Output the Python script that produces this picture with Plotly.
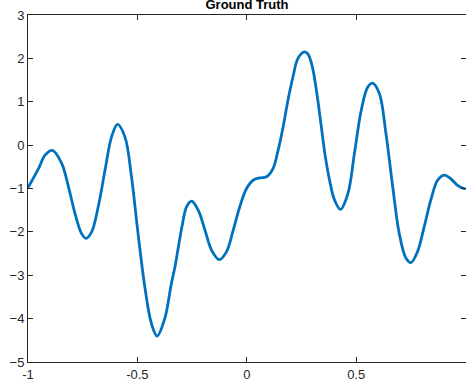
import plotly.graph_objects as go

# values
x_vals = [-1.0, -0.952, -0.922, -0.888, -0.846, -0.815, -0.785, -0.755, -0.735,
          -0.709, -0.679, -0.648, -0.618, -0.591, -0.557, -0.527, -0.497, -0.466,
          -0.436, -0.41, -0.375, -0.345, -0.328, -0.297, -0.275, -0.252, -0.222,
          -0.191, -0.161, -0.126, -0.093, -0.062, -0.032, -0.001, 0.029, 0.059,
          0.09, 0.12, 0.143, 0.166, 0.188, 0.211, 0.234, 0.264, 0.28, 0.30,
          0.32, 0.34, 0.36, 0.38, 0.40, 0.428, 0.462, 0.492, 0.523, 0.553,
          0.575, 0.606, 0.636, 0.667, 0.697, 0.728, 0.75, 0.78, 0.811, 0.841,
          0.872, 0.902, 0.932, 0.962, 0.993, 1.0]
y_vals = [-0.98, -0.54, -0.23, -0.12, -0.42, -0.96, -1.58, -2.04, -2.15,
          -2.0, -1.42, -0.58, 0.19, 0.48, 0.19, -0.73, -2.04, -3.27,
          -4.11, -4.40, -4.0, -3.2, -2.8, -1.9, -1.42, -1.29, -1.5,
          -1.96, -2.42, -2.64, -2.46, -1.96, -1.42, -1.0, -0.81, -0.756,
          -0.73, -0.54, -0.12, 0.42, 1.03, 1.57, 2.0, 2.15, 2.1, 1.8,
          1.2, 0.45, -0.3, -0.85, -1.25, -1.48, -1.12, -0.19, 0.80, 1.34,
          1.43, 1.19, 0.27, -0.96, -2.04, -2.61, -2.71, -2.46, -1.88, -1.27,
          -0.81, -0.69, -0.77, -0.92, -1.0, -1.0]
x_ticks = [-1, -0.5, 0, 0.5, 1]
x_tick_text = ["-1", "-0.5", "0", "0.5", "1"]
y_ticks = [-5, -4, -3, -2, -1, 0, 1, 2, 3]
title_text = "Ground Truth"

fig = go.Figure()
fig.add_trace(go.Scatter(x=x_vals, y=y_vals, mode="lines",
                         line=dict(color="#0072BD", width=2.8, shape="spline", smoothing=1.0),
                         hoverinfo="skip"))

axis_common = dict(showgrid=False, zeroline=False, showline=True, linecolor="#262626",
                   linewidth=1, mirror="ticks", ticks="inside", ticklen=5, tickwidth=1,
                   tickcolor="#262626",
                   tickfont=dict(family="Liberation Sans, Arial, sans-serif", size=13, color="#262626"))

fig.update_layout(
    width=466, height=391,
    margin=dict(l=28, r=0, t=15, b=29),
    paper_bgcolor="white", plot_bgcolor="white",
    showlegend=False,
    title=dict(text="<b>" + title_text + "</b>", x=247 / 466, xanchor="center",
               y=1 - 9 / 391, yanchor="bottom",
               font=dict(family="Liberation Sans, Arial, sans-serif", size=13, color="black")),
    xaxis=dict(range=[-1, 1.002], tickvals=x_ticks, ticktext=x_tick_text, **axis_common),
    yaxis=dict(range=[-5, 3], tickvals=y_ticks, **axis_common),
)

fig.write_html("out.html")
